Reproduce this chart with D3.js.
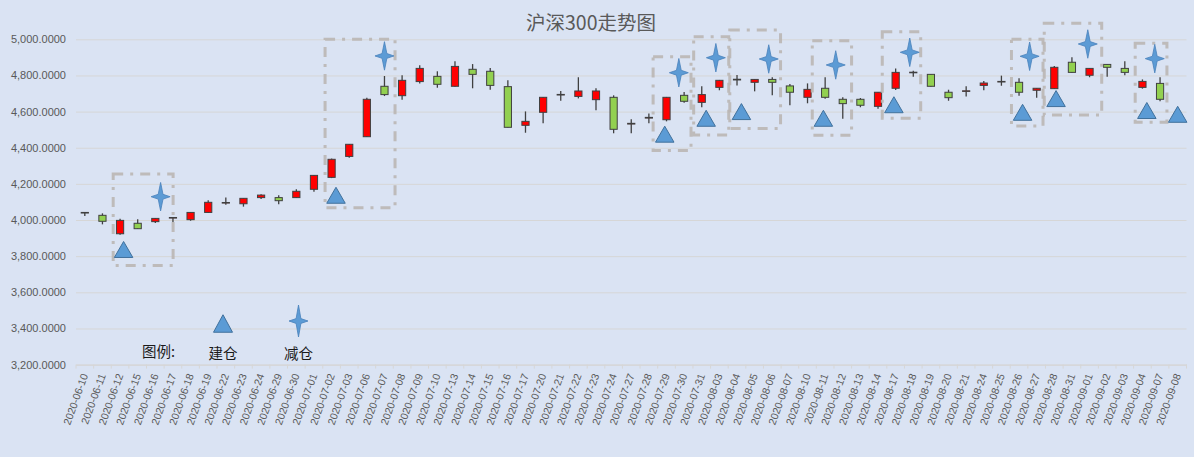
<!DOCTYPE html>
<html><head><meta charset="utf-8">
<script src="https://cdn.jsdelivr.net/npm/d3@7"></script>
<style>html,body{margin:0;padding:0;background:#dae3f3;} svg{display:block}</style>
</head><body><svg id="c" width="1194" height="457"></svg>
<script>
// ---------- data ----------
const dates = ["2020-06-10","2020-06-11","2020-06-12","2020-06-15","2020-06-16","2020-06-17","2020-06-18","2020-06-19","2020-06-22","2020-06-23","2020-06-24","2020-06-29","2020-06-30",
"2020-07-01","2020-07-02","2020-07-03","2020-07-06","2020-07-07","2020-07-08","2020-07-09","2020-07-10","2020-07-13","2020-07-14","2020-07-15","2020-07-16","2020-07-17","2020-07-20","2020-07-21","2020-07-22","2020-07-23","2020-07-24","2020-07-27","2020-07-28","2020-07-29","2020-07-30","2020-07-31",
"2020-08-03","2020-08-04","2020-08-05","2020-08-06","2020-08-07","2020-08-10","2020-08-11","2020-08-12","2020-08-13","2020-08-14","2020-08-17","2020-08-18","2020-08-19","2020-08-20","2020-08-21","2020-08-24","2020-08-25","2020-08-26","2020-08-27","2020-08-28","2020-08-31",
"2020-09-01","2020-09-02","2020-09-03","2020-09-04","2020-09-07","2020-09-08"];
const opens  = [4042,4026,3924,3982,3991,4013,4002,4042,4096,4090,4124,4124,4124,4170,4236,4352,4461,4740,4688,4766,4795,4740,4834,4823,4738,4524,4596,4692,4684,4666,4679,4531,4564,4555,4690,4651,4734,4775,4762,4778,4742,4679,4729,4668,4668,4629,4729,4815,4806,4707,4712,4745,4764,4762,4718,4727,4873,4801,4861,4839,4734,4756,null];
const highs  = [4043,4037,4007,4004,4011,4016,4043,4109,4125,4121,4143,4137,4170,4249,4340,4421,4677,4797,4801,4856,4823,4878,4863,4841,4773,4601,4681,4714,4790,4729,4690,4557,4590,4681,4708,4740,4775,4802,4780,4790,4753,4756,4790,4679,4675,4709,4839,4826,4808,4721,4740,4769,4799,4784,4731,4852,4900,4841,4863,4878,4778,4790,null];
const lows   = [4022,3976,3919,3950,3983,3987,3996,4040,4085,4074,4117,4087,4122,4157,4232,4345,4460,4686,4666,4756,4732,4738,4729,4721,4512,4483,4535,4660,4673,4607,4480,4480,4535,4546,4649,4624,4718,4745,4712,4690,4635,4646,4671,4561,4624,4616,4719,4793,4738,4660,4683,4718,4743,4688,4677,4725,4815,4790,4793,4801,4727,4657,null];
const closes = [4040,3993,3998,3952,4009,4014,4042,4098,4097,4120,4138,4107,4159,4247,4336,4419,4668,4694,4773,4839,4751,4850,4806,4745,4513,4546,4679,4695,4714,4714,4502,4535,4568,4679,4657,4694,4773,4779,4778,4762,4707,4723,4679,4644,4635,4707,4817,4818,4740,4677,4715,4758,4767,4707,4729,4845,4817,4839,4845,4817,4767,4668,null];

const yTicks = [3200,3400,3600,3800,4000,4200,4400,4600,4800,5000];

// buy (建仓) markers: position in category units, price
const buyPos = [2.2,14.25,32.9,35.25,37.25,41.9,45.9,53.2,55.1,60.25,62.0];
const buyVal = [3837,4137,4475,4563,4600,4563,4638,4596,4672,4606,4585];
// sell (减仓) markers
const sellPos = [4.3,17.0,33.7,35.8,38.8,42.6,46.8,53.6,56.9,60.7];
const sellVal = [4129,4908,4815,4898,4891,4858,4928,4906,4974,4893];
// highlight boxes (category units / price)
const boxLeft   = [1.61,13.63,32.24,34.54,36.59,41.27,45.24,52.57,54.43,59.59];
const boxRight  = [5.01,17.6,34.39,36.53,39.47,43.5,47.42,54.36,57.69,61.39];
const boxTop    = [4255,5000,4904,5014,5051,4992,5042,5000,5089,4978];
const boxBottom = [3748,4068,4384,4470,4507,4469,4563,4520,4581,4541];

const titleText = "沪深300走势图";
const legendTitle = "图例:", buyLabel = "建仓", sellLabel = "减仓";

// ---------- drawing ----------
const W = 1194, H = 457, pLeft = 76, pRight = 1186.5, pTop = 39.3, pBottom = 364.6;
const svg = d3.select("#c");
svg.append("rect").attr("width", W).attr("height", H).attr("fill", "#dae3f3");

const defs = svg.append("defs");
defs.append("filter").attr("id","soft").attr("x","-30%").attr("y","-30%").attr("width","160%").attr("height","160%")
  .append("feGaussianBlur").attr("stdDeviation", 0.45);

const x = d3.scaleBand().domain(dates).range([pLeft, pRight]).padding(0);
const xi = d3.scaleLinear().domain([-0.5, dates.length - 0.5]).range([pLeft, pRight]);
const y = d3.scaleLinear().domain([3200, 5000]).range([pBottom, pTop]);
const bw = x.bandwidth();
const cx = d => x(d) + bw / 2;

// title
svg.append("text").attr("x", 591).attr("y", 29.5).attr("text-anchor", "middle")
  .attr("font-family", "'Noto Sans CJK SC', sans-serif").attr("font-size", 19.5)
  .attr("fill", "#595959").text(titleText);

// gridlines
const grid = svg.append("g").attr("transform", `translate(${pLeft},0)`)
  .call(d3.axisLeft(y).tickValues(yTicks).tickSize(-(pRight - pLeft)).tickFormat(""));
grid.select(".domain").remove();
grid.selectAll(".tick line").attr("stroke", "#d6d6d6").attr("stroke-width", 1);

// y labels
const yax = svg.append("g").attr("transform", `translate(${pLeft},0)`)
  .call(d3.axisLeft(y).tickValues(yTicks).tickSize(0).tickPadding(10).tickFormat(d3.format(",.4f")));
yax.select(".domain").remove();
yax.selectAll("text").attr("font-family", "'Liberation Sans', Arial, sans-serif")
  .attr("font-size", 11).attr("fill", "#595959");

// x axis
const xax = svg.append("g").attr("transform", `translate(0,${pBottom})`)
  .call(d3.axisBottom(x).tickSize(0));
xax.select(".domain").attr("stroke", "#d6d6d6");
xax.selectAll(".tick text")
  .attr("x", 0).attr("y", 0).attr("dy", "0.35em")
  .attr("transform", "translate(0,9.5) rotate(-70)")
  .style("text-anchor", "end")
  .attr("font-family", "'Liberation Sans', Arial, sans-serif")
  .attr("font-size", 10.5).attr("fill", "#595959");
svg.append("g").selectAll("line").data(d3.range(dates.length + 1)).join("line")
  .attr("x1", i => xi(i - 0.5)).attr("x2", i => xi(i - 0.5))
  .attr("y1", pBottom).attr("y2", pBottom + 4)
  .attr("stroke", "#d6d6d6").attr("stroke-width", 1);

// candles
const candles = dates.map((d, i) => ({ d, o: opens[i], h: highs[i], l: lows[i], c: closes[i] }))
  .filter(k => k.o != null);
const cg = svg.append("g");
cg.selectAll("line").data(candles).join("line")
  .attr("x1", k => cx(k.d)).attr("x2", k => cx(k.d))
  .attr("y1", k => y(k.h)).attr("y2", k => y(k.l))
  .attr("stroke", "#404040").attr("stroke-width", 1.3);
const bodyW = 7.2;
cg.selectAll("rect").data(candles).join("rect")
  .attr("x", k => cx(k.d) - bodyW / 2)
  .attr("width", bodyW)
  .attr("y", k => y(Math.max(k.o, k.c)))
  .attr("height", k => Math.max(Math.abs(y(k.o) - y(k.c)), 0.6))
  .attr("fill", k => k.c >= k.o ? "#ff0000" : "#92d050")
  .attr("stroke", "#404040").attr("stroke-width", 1);

// highlight boxes
const boxes = boxLeft.map((b, i) => ({ x0: b, x1: boxRight[i], t: boxTop[i], b: boxBottom[i] }));
svg.append("g").selectAll("rect").data(boxes).join("rect")
  .attr("x", b => xi(b.x0)).attr("y", b => y(b.t))
  .attr("width", b => xi(b.x1) - xi(b.x0)).attr("height", b => y(b.b) - y(b.t))
  .attr("fill", "none").attr("stroke", "#bab6b4").attr("stroke-width", 3)
  .attr("stroke-dasharray", "10,7,3,7").attr("opacity", 0.9);

// marker shapes
function triPath(px, py, w, h) {
  return `M${px},${py - h / 2}L${px + w / 2},${py + h / 2}L${px - w / 2},${py + h / 2}Z`;
}
function starPath(px, py, w, h, k) {
  return `M${px},${py - h / 2}L${px + k},${py - k}L${px + w / 2},${py}L${px + k},${py + k}` +
         `L${px},${py + h / 2}L${px - k},${py + k}L${px - w / 2},${py}L${px - k},${py - k}Z`;
}
const buys = buyPos.map((p, i) => ({ p, v: buyVal[i] }));
const sells = sellPos.map((p, i) => ({ p, v: sellVal[i] }));

svg.append("g").selectAll("path").data(buys).join("path")
  .attr("d", m => triPath(xi(m.p), y(m.v), 18.5, 16))
  .attr("fill", "#5b9bd5").attr("stroke", "#41719c").attr("stroke-width", 1);

svg.append("g").attr("filter", "url(#soft)").selectAll("path").data(sells).join("path")
  .attr("d", m => starPath(xi(m.p), y(m.v), 19, 28.5, 2.4))
  .attr("fill", "#5b9bd5").attr("stroke", "#4a82bb").attr("stroke-width", 0.8);

// legend
const lg = svg.append("g").attr("font-family", "'Noto Sans CJK SC', sans-serif").attr("fill", "#1a1a1a");
lg.append("text").attr("x", 142).attr("y", 357).attr("font-size", 14.5).text(legendTitle);
lg.append("path").attr("d", triPath(223, 323.5, 19, 17.5))
  .attr("fill", "#5b9bd5").attr("stroke", "#41719c").attr("stroke-width", 1);
lg.append("text").attr("x", 223).attr("y", 359).attr("text-anchor", "middle").attr("font-size", 14.5).text(buyLabel);
lg.append("path").attr("d", starPath(298.5, 321, 19, 32, 2.4)).attr("filter", "url(#soft)")
  .attr("fill", "#5b9bd5").attr("stroke", "#4a82bb").attr("stroke-width", 0.8);
lg.append("text").attr("x", 298.5).attr("y", 359).attr("text-anchor", "middle").attr("font-size", 14.5).text(sellLabel);
</script>
</body></html>
